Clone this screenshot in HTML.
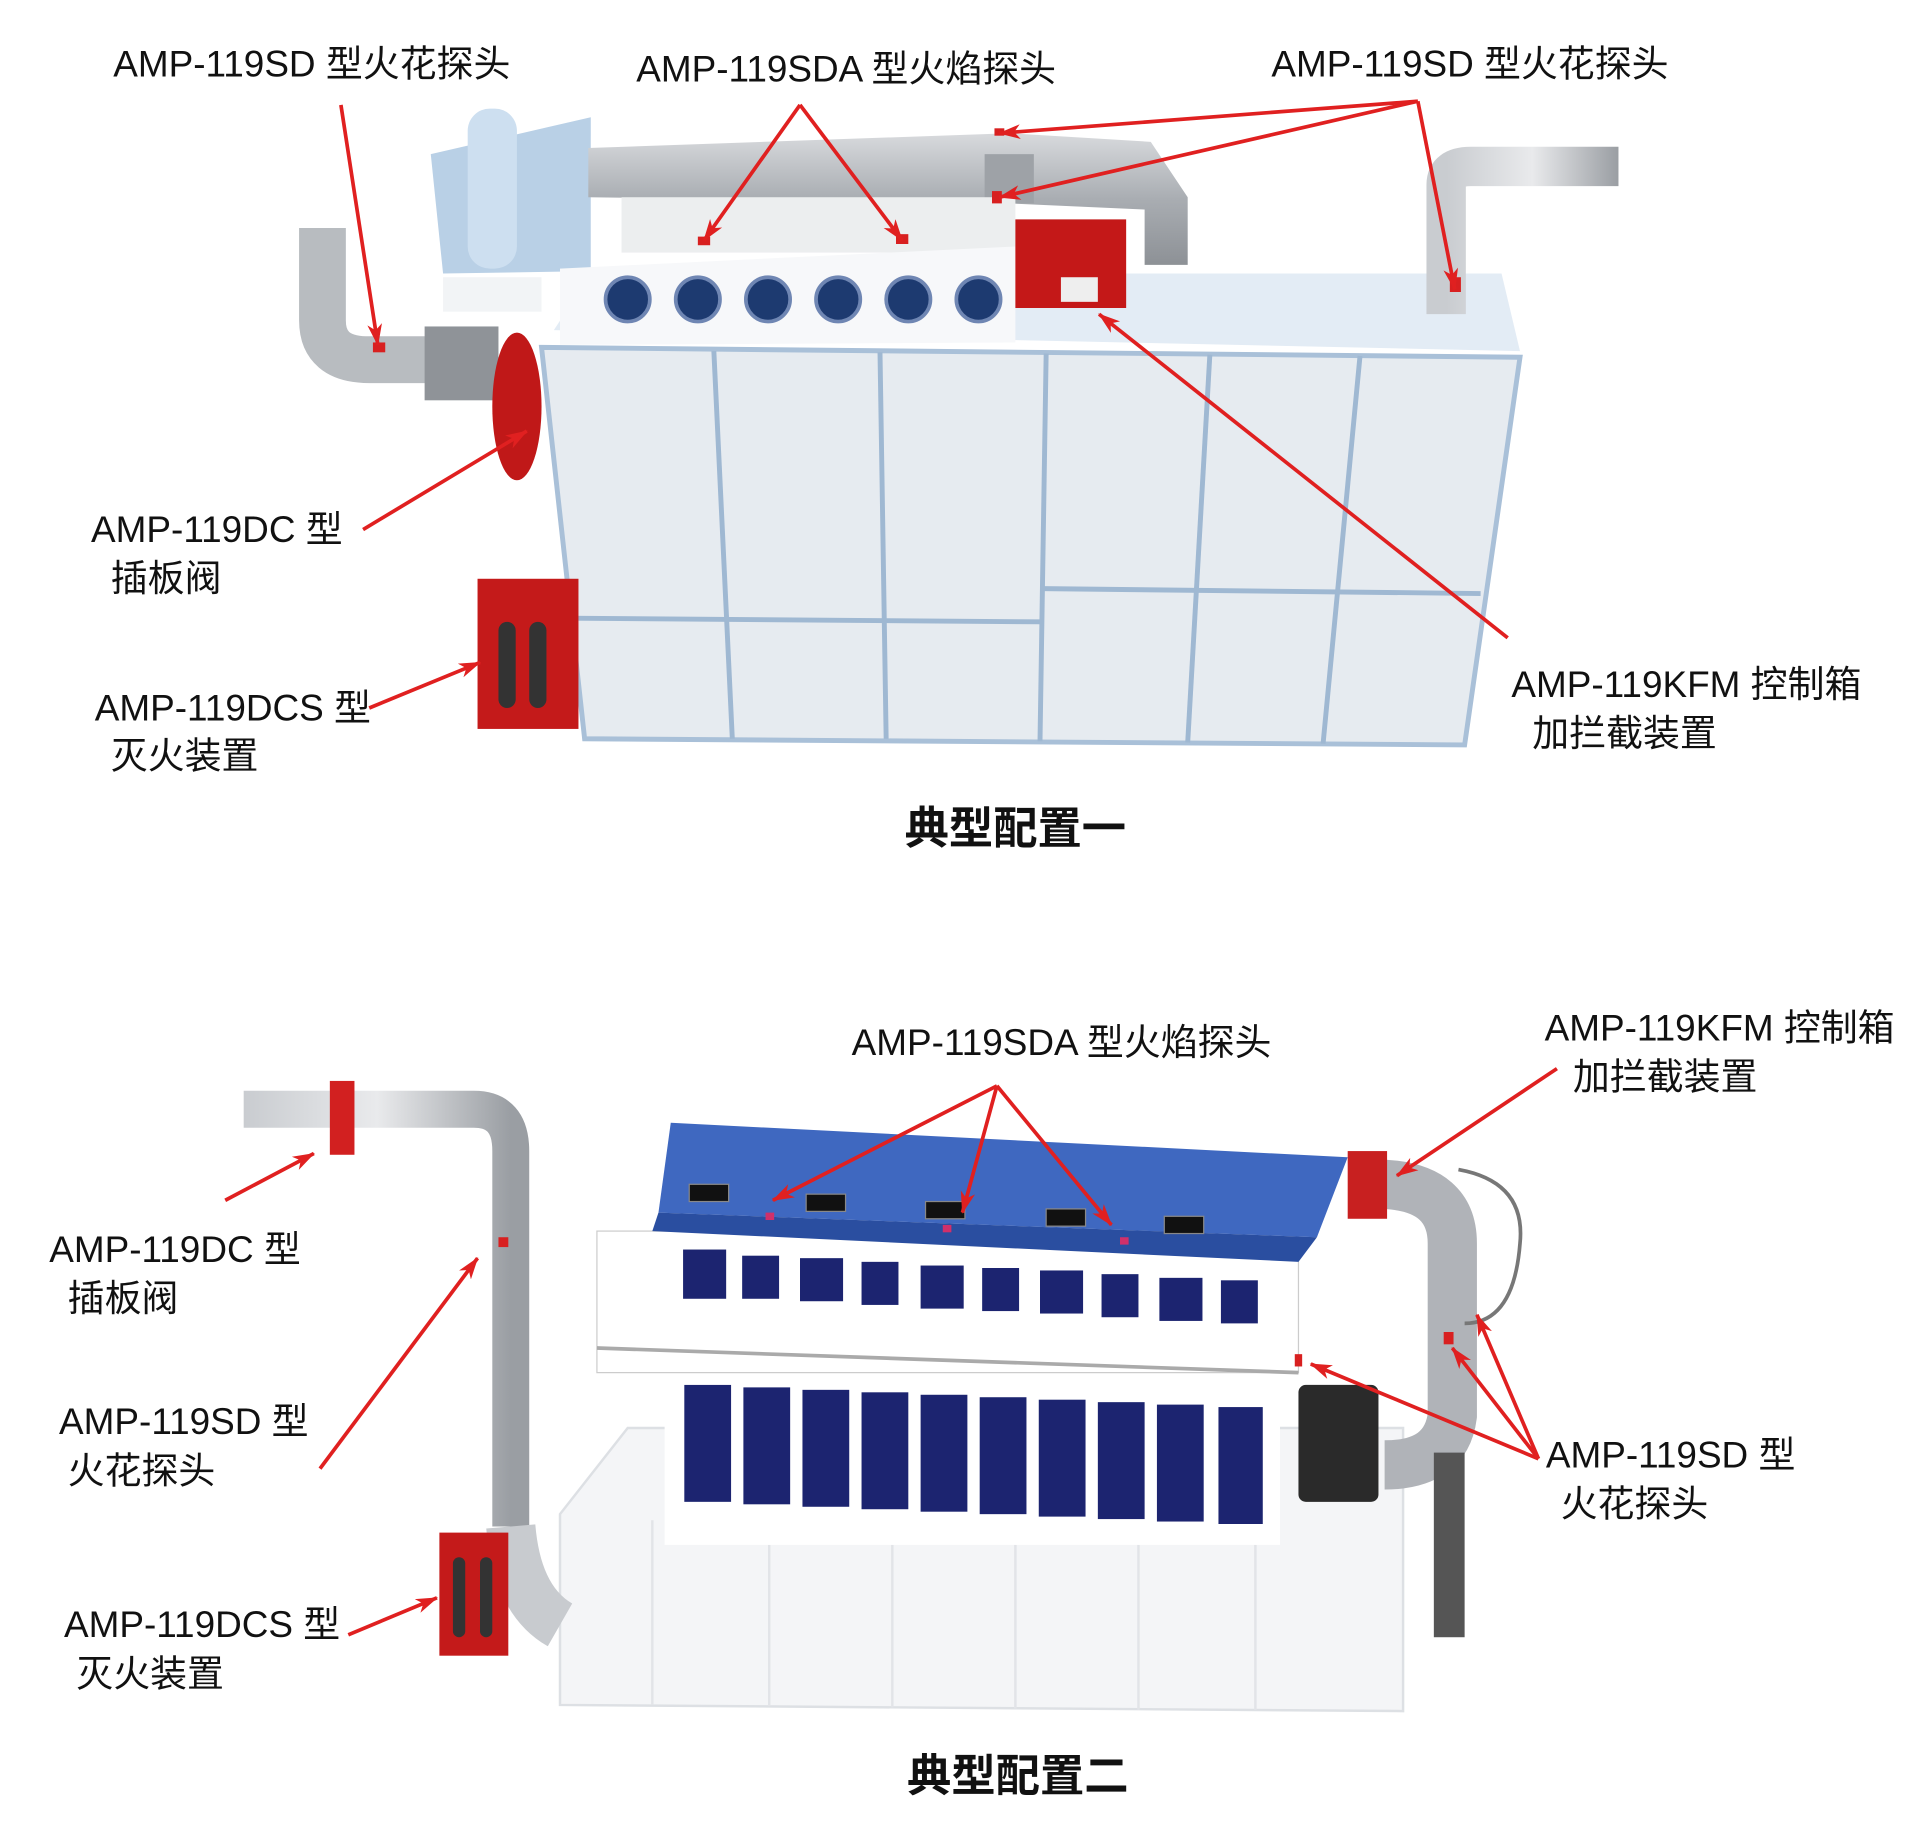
<!DOCTYPE html>
<html><head><meta charset="utf-8"><style>
html,body{margin:0;padding:0;background:#fff;width:1920px;height:1832px;overflow:hidden}
svg{display:block}
text{font-family:"Liberation Sans","Noto Sans CJK SC",sans-serif;fill:#111;font-size:30px}
.t{font-size:36px;font-weight:600}
</style></head><body>
<svg width="1920" height="1832" viewBox="0 0 1560 1488" xmlns="http://www.w3.org/2000/svg">
<defs>
<marker id="a" markerWidth="18" markerHeight="14" refX="17" refY="7" orient="auto" markerUnits="userSpaceOnUse" viewBox="0 0 18 14"><path d="M0,1 L18,7 L0,13 L5,7 Z" fill="#e02020"/></marker>
<linearGradient id="g" x1="0" y1="0" x2="0" y2="1"><stop offset="0" stop-color="#d8dadd"/><stop offset=".5" stop-color="#a9adb2"/><stop offset="1" stop-color="#8d9196"/></linearGradient>
<linearGradient id="gv" x1="0" y1="0" x2="1" y2="0"><stop offset="0" stop-color="#c9ccd0"/><stop offset=".5" stop-color="#e9eaec"/><stop offset="1" stop-color="#9a9ea3"/></linearGradient>
</defs>
<polygon points="450,268 1235,285 1220,222 480,222" fill="#e3ecf5"/>
<polygon points="440,282 1235,290 1190,605 475,600" fill="#e6ebf0" stroke="#a9c0d8" stroke-width="4"/>
<g stroke="#9fb8d2" stroke-width="4" fill="none">
<line x1="580" y1="285" x2="595" y2="600"/><line x1="715" y1="286" x2="720" y2="600"/>
<line x1="850" y1="287" x2="845" y2="602"/><line x1="983" y1="288" x2="965" y2="603"/>
<line x1="1105" y1="289" x2="1075" y2="604"/>
<line x1="462" y1="502" x2="845" y2="505"/><line x1="848" y1="478" x2="1203" y2="482"/>
</g>
<polygon points="350,125 480,95 480,220 360,222" fill="#b9d0e6"/>
<rect x="380" y="88" width="40" height="130" rx="18" fill="#cddff0"/>
<polygon points="478,120 820,108 935,115 965,160 965,215 930,215 930,170 820,165 478,160" fill="url(#g)"/>
<rect x="800" y="125" width="40" height="40" fill="#9ea2a7"/>
<rect x="505" y="160" width="320" height="45" fill="#eceeef"/>
<polygon points="455,218 825,200 825,278 455,280" fill="#f7f8fa"/>
<g fill="#1d3a70" stroke="#6f86b3" stroke-width="3">
<circle cx="510" cy="243" r="18"/><circle cx="567" cy="243" r="18"/><circle cx="624" cy="243" r="18"/>
<circle cx="681" cy="243" r="18"/><circle cx="738" cy="243" r="18"/><circle cx="795" cy="243" r="18"/>
</g>
<rect x="825" y="178" width="90" height="72" fill="#c41818"/>
<rect x="862" y="225" width="30" height="20" fill="#eee"/>
<path d="M1175,255 L1175,150 Q1175,135 1195,135 L1315,135" fill="none" stroke="url(#gv)" stroke-width="32"/>
<path d="M262,185 L262,260 Q262,292 300,292 L400,292" fill="none" stroke="#b8bcc0" stroke-width="38"/>
<rect x="345" y="265" width="60" height="60" fill="#8f9398"/>
<ellipse cx="420" cy="330" rx="20" ry="60" fill="#c01818"/>
<rect x="360" y="225" width="80" height="28" fill="#f2f4f6"/>
<rect x="388" y="470" width="82" height="122" fill="#c41a1a"/>
<rect x="405" y="505" width="14" height="70" rx="7" fill="#333"/><rect x="430" y="505" width="14" height="70" rx="7" fill="#333"/>
<g fill="#d82020"><rect x="303" y="278" width="10" height="8"/><rect x="567" y="192" width="10" height="7"/><rect x="728" y="190" width="10" height="8"/><rect x="1178" y="225" width="9" height="12"/><rect x="808" y="104" width="8" height="6"/><rect x="806" y="155" width="8" height="10"/></g>
<text x="92" y="62">AMP-119SD 型火花探头</text>
<text x="517" y="66">AMP-119SDA 型火焰探头</text>
<text x="1033" y="62">AMP-119SD 型火花探头</text>
<text x="74" y="440">AMP-119DC 型</text><text x="90" y="480">插板阀</text>
<text x="77" y="585">AMP-119DCS 型</text><text x="90" y="624">灭火装置</text>
<text x="1228" y="566">AMP-119KFM 控制箱</text><text x="1245" y="606">加拦截装置</text>
<text class="t" x="735" y="685">典型配置一</text>
<g stroke="#e02020" stroke-width="3" fill="none" marker-end="url(#a)">
<line x1="277" y1="85" x2="307" y2="280"/>
<line x1="650" y1="85" x2="572" y2="195"/><line x1="650" y1="85" x2="733" y2="195"/>
<line x1="1152" y1="82" x2="812" y2="108"/><line x1="1152" y1="82" x2="812" y2="160"/><line x1="1152" y1="82" x2="1182" y2="235"/>
<line x1="295" y1="430" x2="428" y2="350"/>
<line x1="300" y1="575" x2="390" y2="538"/>
<line x1="1225" y1="518" x2="893" y2="255"/>
</g>

<polygon points="455,1230 510,1160 1140,1160 1140,1390 455,1385" fill="#f4f5f7" stroke="#dde0e4" stroke-width="2"/>
<g stroke="#e2e4e8" stroke-width="2"><line x1="530" y1="1235" x2="530" y2="1385"/><line x1="625" y1="1235" x2="625" y2="1386"/><line x1="725" y1="1235" x2="725" y2="1387"/><line x1="825" y1="1235" x2="825" y2="1388"/><line x1="925" y1="1235" x2="925" y2="1389"/><line x1="1020" y1="1235" x2="1020" y2="1389"/></g>
<rect x="540" y="1115" width="500" height="140" fill="#fff"/>
<g fill="#1c2470">
<rect x="556" y="1125" width="38" height="95"/><rect x="604" y="1127" width="38" height="95"/><rect x="652" y="1129" width="38" height="95"/><rect x="700" y="1131" width="38" height="95"/><rect x="748" y="1133" width="38" height="95"/><rect x="796" y="1135" width="38" height="95"/><rect x="844" y="1137" width="38" height="95"/><rect x="892" y="1139" width="38" height="95"/><rect x="940" y="1141" width="38" height="95"/><rect x="990" y="1143" width="36" height="95"/>
</g>
<rect x="485" y="1000" width="570" height="115" fill="#fff" stroke="#ccc"/>
<g fill="#1c2470">
<rect x="555" y="1015" width="35" height="40"/><rect x="603" y="1020" width="30" height="35"/><rect x="650" y="1022" width="35" height="35"/><rect x="700" y="1025" width="30" height="35"/><rect x="748" y="1028" width="35" height="35"/><rect x="798" y="1030" width="30" height="35"/><rect x="845" y="1032" width="35" height="35"/><rect x="895" y="1035" width="30" height="35"/><rect x="942" y="1038" width="35" height="35"/><rect x="992" y="1040" width="30" height="35"/>
</g>
<line x1="485" y1="1095" x2="1055" y2="1115" stroke="#aaa" stroke-width="3"/>
<polygon points="545,912 1095,940 1070,1005 535,985" fill="#3f68c0"/>
<polygon points="535,985 1070,1005 1055,1025 530,1000" fill="#2a4ea0"/>
<g fill="#111" stroke="#888"><rect x="560" y="962" width="32" height="14"/><rect x="655" y="970" width="32" height="14"/><rect x="752" y="976" width="32" height="14"/><rect x="850" y="982" width="32" height="14"/><rect x="946" y="988" width="32" height="14"/></g>
<path d="M198,901 L385,901 Q415,901 415,935 L415,1240" fill="none" stroke="url(#gv)" stroke-width="30"/>
<path d="M415,1240 Q420,1300 455,1320" fill="none" stroke="#c8cbcf" stroke-width="40"/>
<rect x="268" y="878" width="20" height="60" fill="#d22020"/>
<rect x="357" y="1245" width="56" height="100" fill="#c41a1a"/>
<rect x="368" y="1265" width="10" height="65" rx="5" fill="#333"/><rect x="390" y="1265" width="10" height="65" rx="5" fill="#333"/>
<path d="M1125,962 Q1180,965 1180,1010 L1180,1150 Q1175,1190 1125,1190" fill="none" stroke="#b0b3b8" stroke-width="40"/>
<rect x="1095" y="935" width="32" height="55" fill="#c82020"/>
<path d="M1185,950 Q1240,960 1235,1010 Q1230,1075 1190,1075" fill="none" stroke="#777" stroke-width="3"/>
<rect x="1055" y="1125" width="65" height="95" rx="6" fill="#2a2a2a"/>
<rect x="1165" y="1180" width="25" height="150" fill="#555"/>
<g fill="#d0306a"><rect x="622" y="985" width="7" height="6"/><rect x="766" y="995" width="7" height="6"/><rect x="910" y="1005" width="7" height="6"/></g>
<g fill="#d82020"><rect x="405" y="1005" width="8" height="8"/><rect x="1173" y="1082" width="8" height="10"/><rect x="1052" y="1100" width="6" height="10"/></g>
<text x="692" y="857">AMP-119SDA 型火焰探头</text>
<text x="1255" y="845">AMP-119KFM 控制箱</text><text x="1278" y="885">加拦截装置</text>
<text x="40" y="1025">AMP-119DC 型</text><text x="55" y="1065">插板阀</text>
<text x="48" y="1165">AMP-119SD 型</text><text x="55" y="1205">火花探头</text>
<text x="1256" y="1192">AMP-119SD 型</text><text x="1268" y="1232">火花探头</text>
<text x="52" y="1330">AMP-119DCS 型</text><text x="62" y="1370">灭火装置</text>
<text class="t" x="737" y="1455">典型配置二</text>
<g stroke="#e02020" stroke-width="3" fill="none" marker-end="url(#a)">
<line x1="810" y1="882" x2="628" y2="975"/><line x1="810" y1="882" x2="782" y2="985"/><line x1="810" y1="882" x2="903" y2="995"/>
<line x1="1265" y1="868" x2="1135" y2="955"/>
<line x1="183" y1="975" x2="255" y2="937"/>
<line x1="260" y1="1193" x2="388" y2="1022"/>
<line x1="1250" y1="1185" x2="1065" y2="1108"/><line x1="1250" y1="1185" x2="1180" y2="1095"/><line x1="1250" y1="1185" x2="1200" y2="1068"/>
<line x1="283" y1="1328" x2="355" y2="1298"/>
</g>
</svg>
</body></html>
